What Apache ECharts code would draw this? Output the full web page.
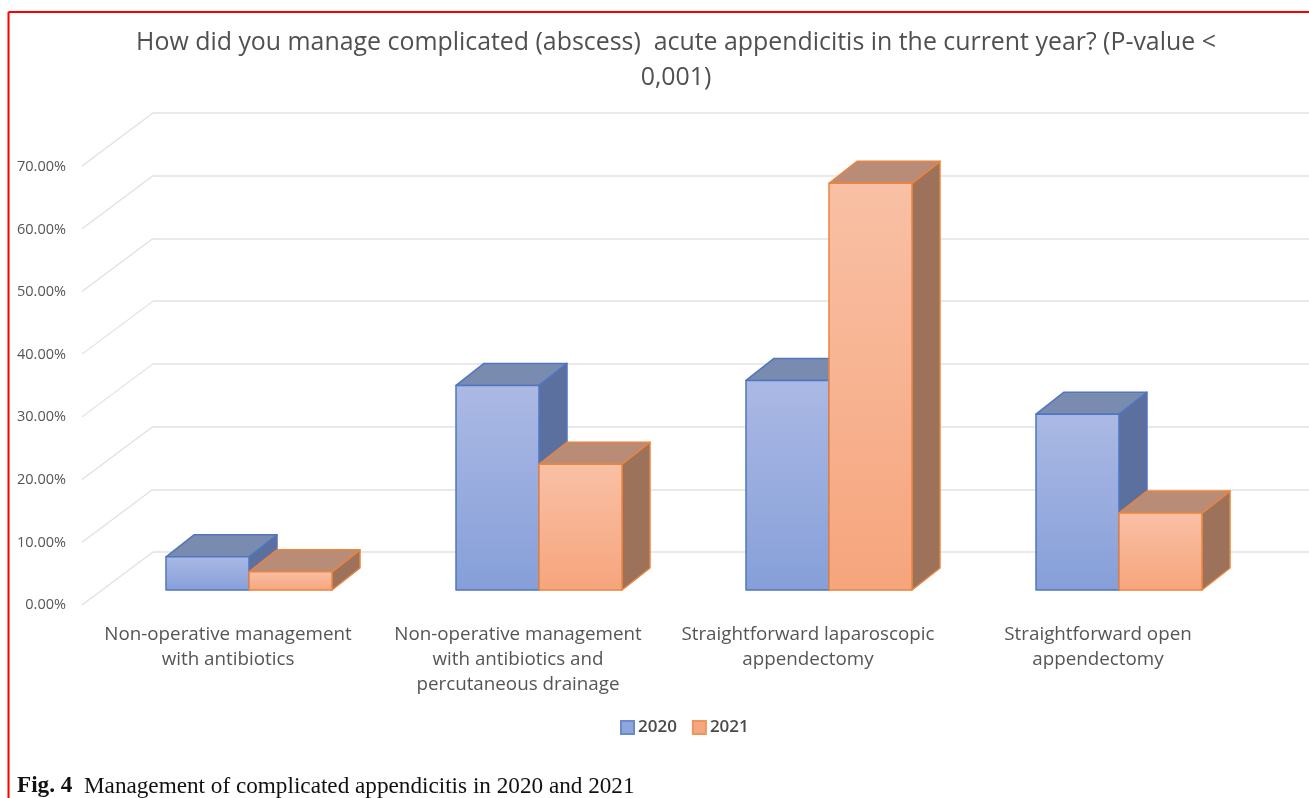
<!DOCTYPE html>
<html>
<head>
<meta charset="utf-8">
<style>html,body{margin:0;padding:0;background:#fff}#c{width:1309px;height:798px}</style>
<script src="https://cdn.jsdelivr.net/npm/echarts@6/dist/echarts.min.js"></script>
</head>
<body>
<div id="c"></div>
<script>
const categories = [
  'Non-operative management\nwith antibiotics',
  'Non-operative management\nwith antibiotics and\npercutaneous drainage',
  'Straightforward laparoscopic\nappendectomy',
  'Straightforward open\nappendectomy'
];
const seriesNames = ['2020', '2021'];
const values2020 = [5.3, 32.7, 33.5, 28.1];
const values2021 = [2.9, 20.1, 65.0, 12.3];
const yTicks = [0, 10, 20, 30, 40, 50, 60, 70];
const titleText = 'How did you manage complicated (abscess)  acute appendicitis in the current year? (P-value <\n0,001)';

const FONT = '"Open Sans", "Noto Sans", sans-serif';
const styles = [
  {front:['#abb9e4','#869fd9'], top:'#7a8bb0', side:'#5c709f', border:'#4f76be', legend:'#8fa5dc', legendBorder:'#6a8bcb'},
  {front:['#f9c0a5','#f6a57c'], top:'#b88c76', side:'#9d725b', border:'#e98441', legend:'#f6a77f', legendBorder:'#ee9460'}
];
const DEPTH_X = 28, DEPTH_Y = 22, SHIFT_X = 21, SHIFT_Y = 15, BAR_W = 83;

function renderBar(seriesIdx) {
  return function (params, api) {
    const s = styles[seriesIdx];
    const top = api.coord([api.value(0), api.value(1)]);
    const base = api.coord([api.value(0), 0]);
    const cx = top[0] + SHIFT_X;
    const x0 = seriesIdx === 0 ? cx - BAR_W : cx;
    const x1 = x0 + BAR_W;
    const yt = top[1] - SHIFT_Y, yb = base[1] - SHIFT_Y;
    const line = {stroke: s.border, lineWidth: 1.5, lineJoin: 'round'};
    return {type: 'group', children: [
      {type: 'polygon', shape: {points: [[x1,yt],[x1+DEPTH_X,yt-DEPTH_Y],[x1+DEPTH_X,yb-DEPTH_Y],[x1,yb]]},
       style: Object.assign({fill: s.side}, line)},
      {type: 'polygon', shape: {points: [[x0,yt],[x0+DEPTH_X,yt-DEPTH_Y],[x1+DEPTH_X,yt-DEPTH_Y],[x1,yt]]},
       style: Object.assign({fill: s.top}, line)},
      {type: 'rect', shape: {x: x0, y: yt, width: BAR_W, height: yb - yt},
       style: Object.assign({fill: {type:'linear',x:0,y:0,x2:0,y2:1,colorStops:[{offset:0,color:s.front[0]},{offset:1,color:s.front[1]}]}}, line)}
    ]};
  };
}

function renderWallDiagonal(params, api) {
  const p = api.coord([0, api.value(0)]);
  const x = params.coordSys.x;
  return {type: 'line', shape: {x1: x, y1: p[1], x2: x - 71, y2: p[1] + 53},
          style: {stroke: '#e0e0e0', lineWidth: 1.2}};
}

const chart = echarts.init(document.getElementById('c'), null, {renderer: 'canvas'});
chart.setOption({
  animation: false,
  backgroundColor: '#fff',
  color: styles.map(s => s.legend),
  title: [
    {text: titleText, left: 671, top: 20, textAlign: 'center',
     textStyle: {fontFamily: FONT, fontSize: 24.9, fontWeight: 400, color: '#505050', lineHeight: 35}},
    {text: '{b|Fig. 4}  Management of complicated appendicitis in 2020 and 2021', left: 12, top: 770,
     textStyle: {fontFamily: '"Liberation Serif", serif', fontSize: 23.2, fontWeight: 400, color: '#111',
       rich: {b: {fontFamily: '"Liberation Serif", serif', fontSize: 23.2, fontWeight: 700, color: '#111'}}}}
  ],
  legend: {
    data: seriesNames, left: 615, top: 714, itemWidth: 13, itemHeight: 13, itemGap: 15, icon: 'rect',
    textStyle: {fontFamily: FONT, fontSize: 17, fontWeight: 600, color: '#4a4a4a', padding: [0,0,0,-1]}
  },
  grid: [
    {left: 83, width: 1160, top: 167, height: 438},
    {left: 153, right: 0, top: 113, height: 439}
  ],
  xAxis: [
    {type: 'category', gridIndex: 0, data: categories, boundaryGap: true,
     axisLine: {show: false}, axisTick: {show: false},
     axisLabel: {interval: 0, margin: 17, fontFamily: FONT, fontSize: 18.8, lineHeight: 25, color: '#555'}},
    {type: 'category', gridIndex: 1, data: categories,
     axisLine: {show: false}, axisTick: {show: false}, axisLabel: {show: false}}
  ],
  yAxis: [
    {type: 'value', gridIndex: 0, min: 0, max: 70, interval: 10,
     axisLine: {show: false}, axisTick: {show: false}, splitLine: {show: false},
     axisLabel: {margin: 17, fontFamily: FONT, fontSize: 14.5, color: '#555', formatter: v => v.toFixed(2) + '%'}},
    {type: 'value', gridIndex: 1, min: 0, max: 70, interval: 10,
     axisLine: {show: false}, axisTick: {show: false}, axisLabel: {show: false},
     splitLine: {show: true, lineStyle: {color: '#e2e2e2', width: 1.5}}}
  ],
  series: [
    {type: 'custom', name: 'wall', xAxisIndex: 1, yAxisIndex: 1, silent: true, z: 1,
     data: yTicks.map(v => [v]), encode: {y: 0}, renderItem: renderWallDiagonal},
    {type: 'custom', name: seriesNames[0], xAxisIndex: 0, yAxisIndex: 0, z: 2,
     data: values2020.map((v, i) => [i, v]), encode: {x: 0, y: 1}, renderItem: renderBar(0),
     itemStyle: {color: styles[0].legend, borderColor: styles[0].legendBorder, borderWidth: 1}},
    {type: 'custom', name: seriesNames[1], xAxisIndex: 0, yAxisIndex: 0, z: 3,
     data: values2021.map((v, i) => [i, v]), encode: {x: 0, y: 1}, renderItem: renderBar(1),
     itemStyle: {color: styles[1].legend, borderColor: styles[1].legendBorder, borderWidth: 1}}
  ],
  graphic: [
    {type: 'line', silent: true, shape: {x1: 8.5, y1: 12, x2: 1309, y2: 12}, style: {stroke: '#f00', lineWidth: 2}},
    {type: 'line', silent: true, shape: {x1: 8.5, y1: 12, x2: 8.5, y2: 798}, style: {stroke: '#f00', lineWidth: 2}}
  ]
});
</script>
</body>
</html>
